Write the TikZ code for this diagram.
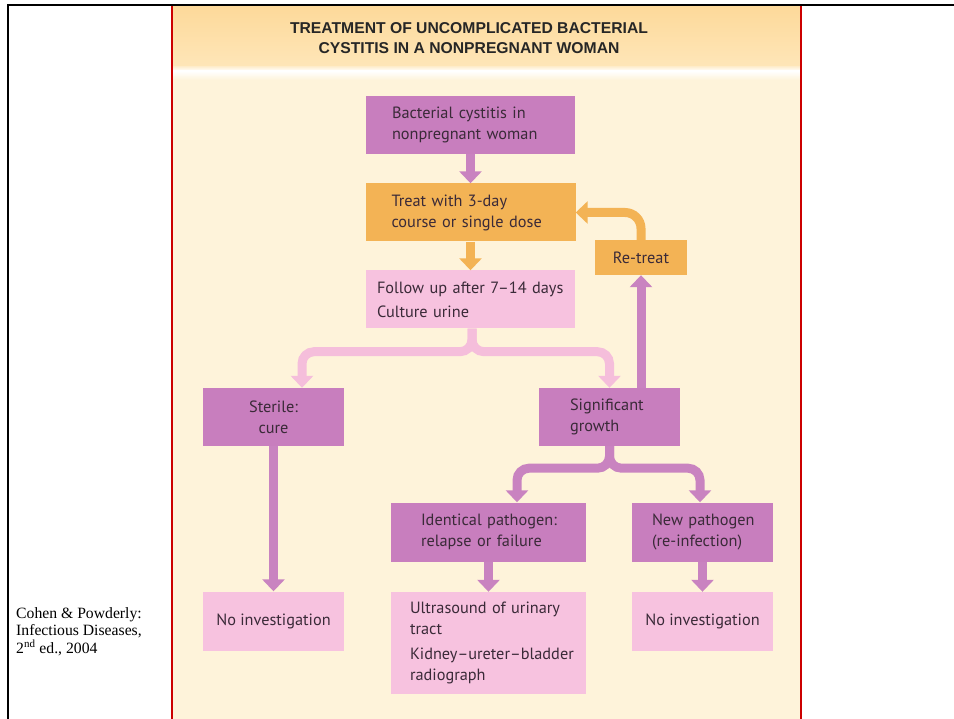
\documentclass[tikz,border=0pt]{standalone}
\usepackage{fontspec}
\setmainfont{PT Sans}
\newfontfamily\citefont{Liberation Serif}
\newfontfamily\titlefont{Liberation Sans}
\usetikzlibrary{arrows.meta}
\definecolor{cream}{HTML}{FEF3DA}
\definecolor{hdrtop}{HTML}{FDD99A}
\definecolor{hdrbot}{HTML}{FEE6B8}
\definecolor{purp}{HTML}{C87EBE}
\definecolor{purpArr}{HTML}{C983C0}
\definecolor{lpink}{HTML}{F7C2DF}
\definecolor{pinkArr}{HTML}{F5BEDB}
\definecolor{orng}{HTML}{F3B355}
\definecolor{txt}{HTML}{3A2A38}
\definecolor{frame}{HTML}{CC0000}
\newcommand{\lpad}[1]{\leftskip=#1pt\relax}
\tikzset{
  boxbase/.style={rectangle, inner ysep=0pt, text=txt, font=\fontsize{16.3}{21}\selectfont},
  pbox/.style={boxbase, fill=purp},
  obox/.style={boxbase, fill=orng},
  lbox/.style={boxbase, fill=lpink},
  tip/.style={-{Triangle[width=22pt,length=12pt]}},
  parr/.style={draw=purpArr, line width=9pt, tip},
  oarr/.style={draw=orng, line width=9pt, tip},
  larr/.style={draw=pinkArr, line width=9pt, tip},
}
\begin{document}
\begin{tikzpicture}[x=1pt,y=-1pt]
\useasboundingbox (0,0) rectangle (954,719);
\fill[white] (0,0) rectangle (954,719);
% panel
\fill[cream] (172,74) rectangle (801,719);
\fill[top color=hdrtop, bottom color=hdrbot] (172,6) rectangle (801,67);
\fill[top color=hdrbot!60!white, bottom color=white] (172,67) rectangle (801,71);
\fill[top color=white, bottom color=cream] (172,71) rectangle (801,80);
\draw[frame, line width=1.5pt] (172,6) -- (172,719);
\draw[frame, line width=1.5pt] (801,6) -- (801,719);
% outer frame
\draw[black, line width=2.5pt] (8,719) -- (8,5) -- (954,5);
% title
\node[font=\titlefont\bfseries\fontsize{15.7}{20}\selectfont, text=black!85, align=center] (title) at (469,38.5) {TREATMENT OF UNCOMPLICATED BACTERIAL\\CYSTITIS IN A NONPREGNANT WOMAN};
% boxes
\node[pbox, minimum width=209, minimum height=58, inner xsep=4, text width=201, align=left] (b1) at (470.5,125) {\lpad{22}Bacterial cystitis in\\nonpregnant woman\par};
\node[obox, minimum width=210, minimum height=58, inner xsep=4, text width=202, align=left] (b2) at (470.5,212.5) {\lpad{22}Treat with 3-day\\course or single dose\par};
\node[lbox, minimum width=209, minimum height=58, inner xsep=4, text width=201, align=left] (b3) at (470.5,299.5) {\lpad{7}Follow up after 7--14 days\\[3pt]Culture urine\par};
\node[obox, minimum width=92, minimum height=35, align=center] (rt) at (641,257.5) {Re-treat};
\node[pbox, minimum width=141, minimum height=58, align=center] (st) at (273.5,417) {Sterile:\\cure};
\node[pbox, minimum width=141, minimum height=58, inner xsep=4, text width=133, align=left] (sg) at (609.5,417) {\lpad{27}Significant\\growth\par};
\node[pbox, minimum width=195, minimum height=59, inner xsep=4, text width=187, align=left] (id) at (488.5,532) {\lpad{26}Identical pathogen:\\relapse or failure\par};
\node[pbox, minimum width=141, minimum height=59, inner xsep=4, text width=133, align=left] (np) at (702.5,532) {\lpad{16}New pathogen\\(re-infection)\par};
\node[lbox, minimum width=195, minimum height=102, inner xsep=4, text width=187, align=left] (us) at (488.5,643) {\lpad{15}Ultrasound of urinary\\tract\\[4pt]Kidney--ureter--bladder\\radiograph\par};
\node[lbox, minimum width=141, minimum height=59, align=center] (n1) at (273.5,621) {No investigation};
\node[lbox, minimum width=141, minimum height=59, align=center] (n2) at (702.5,621.5) {No investigation};
% connectors
\draw[parr] (b1.south) -- (b2.north);
\draw[oarr] (b2.south) -- (b3.north);
\draw[larr, rounded corners=12pt] ([xshift=1.5pt]b3.south) -- ++(0,23) -| ([xshift=28.5pt]st.north);
\draw[larr, rounded corners=12pt] ([xshift=1.5pt]b3.south) -- ++(0,23) -| (sg.north);
\draw[parr] (sg.north -| rt.south) -- (rt.south);
\draw[oarr, rounded corners=16pt] (rt.north) |- (b2.east);
\draw[parr] (st.south) -- (n1.north);
\draw[parr, rounded corners=12pt] (sg.south) -- ++(0,22) -| ([xshift=28.5pt]id.north);
\draw[parr, rounded corners=12pt] (sg.south) -- ++(0,22) -| ([xshift=-2.5pt]np.north);
\draw[parr] (id.south) -- (us.north);
\draw[parr] (np.south) -- (n2.north);
% citation
\node[anchor=north west, inner sep=0pt, align=left, font=\citefont\fontsize{15.7}{17.5}\selectfont] (cite) at (16,607) {Cohen \& Powderly:\\Infectious Diseases,\\2\textsuperscript{nd} ed., 2004};
\end{tikzpicture}
\end{document}
